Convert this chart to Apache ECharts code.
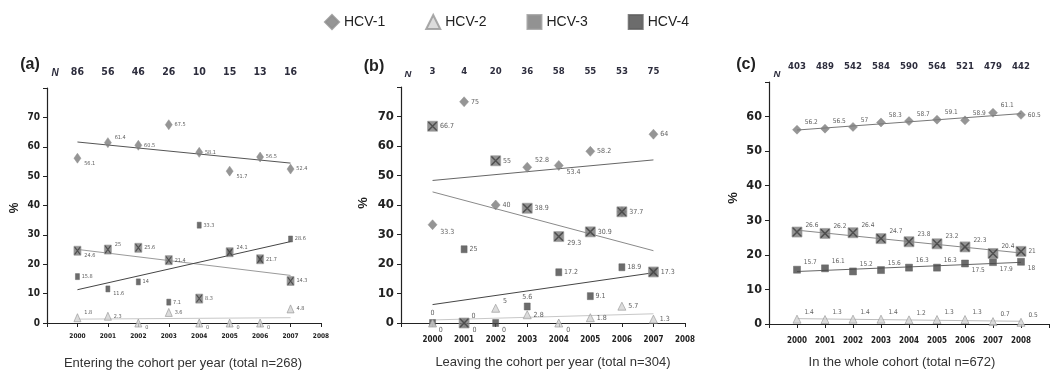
<!DOCTYPE html>
<html>
<head>
<meta charset="utf-8">
<script src="https://cdn.jsdelivr.net/npm/echarts@6/dist/echarts.min.js"></script>
<style>
html,body{margin:0;padding:0;background:#fff}
#chart{width:1052px;height:374px}
</style>
</head>
<body>
<div id="chart"></div>
<script>
// ---- data: genotype share (%) per calendar year ----
const years = [2000, 2001, 2002, 2003, 2004, 2005, 2006, 2007, 2008];

// (a) patients entering the cohort, 2000-2007
const nEnter = [86, 56, 46, 26, 10, 15, 13, 16];
const enterHcv1 = [56.1, 61.4, 60.5, 67.5, 58.1, 51.7, 56.5, 52.4];
const enterHcv2 = [1.8, 2.3, 0, 3.6, 0, 0, 0, 4.8];
const enterHcv3 = [24.6, 25, 25.6, 21.4, 8.3, 24.1, 21.7, 14.3];
const enterHcv4 = [15.8, 11.6, 14, 7.1, 33.3, 24.1, 21.7, 28.6];

// (b) patients leaving the cohort, 2000-2007
const nLeave = [3, 4, 20, 36, 58, 55, 53, 75];
const leaveHcv1 = [33.3, 75, 40, 52.8, 53.4, 58.2, 37.7, 64];
const leaveHcv2 = [0, 0, 5, 2.8, 0, 1.8, 5.7, 1.3];
const leaveHcv3 = [66.7, 0, 55, 38.9, 29.3, 30.9, 37.7, 17.3];
const leaveHcv4 = [0, 25, 0, 5.6, 17.2, 9.1, 18.9, 17.3];

// (c) whole cohort, 2000-2008
const nWhole = [403, 489, 542, 584, 590, 564, 521, 479, 442];
const wholeHcv1 = [56.2, 56.5, 57, 58.3, 58.7, 59.1, 58.9, 61.1, 60.5];
const wholeHcv2 = [1.4, 1.3, 1.4, 1.4, 1.2, 1.3, 1.3, 0.7, 0.5];
const wholeHcv3 = [26.6, 26.2, 26.4, 24.7, 23.8, 23.2, 22.3, 20.4, 21];
const wholeHcv4 = [15.7, 16.1, 15.2, 15.6, 16.3, 16.3, 17.5, 17.9, 18];

// ---- value label placement per point (r = right, ur = up-right, dr = down-right, u = up, '' = none) ----
const lpA = {
  h1: ['dr','ur','r','r','r','dr','r','r'],
  h2: ['ur','r','dr','r','dr','dr','dr','r'],
  h3: ['dr','ur','r','r','r','ur','r','r'],
  h4: ['r','dr','r','r','r','','','r']
};
const lpB = {
  h1: ['dr','r','r','ur','dr','r','','r'],
  h2: ['u','ur','ur','r','dr','r','r','r'],
  h3: ['r','dr','r','r','dr','r','r','r'],
  h4: ['dr','r','dr','u','r','r','r','']
};
const lpC = {
  h1: ['ur','ur','ur','ur','ur','ur','ur','ur','r'],
  h2: ['ur','ur','ur','ur','ur','ur','ur','ur','ur'],
  h3: ['ur','ur','ur','ur','ur','ur','ur','ur','r'],
  h4: ['ur','ur','ur','ur','ur','ur','dr','dr','dr']
};

const LABEL_FONT = "'Liberation Sans Narrow','DejaVu Sans Condensed','Liberation Sans',sans-serif";
const CROSS = 'path://M0,0L1.2,0L10,8.8L10,10L8.8,10L0,1.2Z M8.8,0L10,0L10,1.2L1.2,10L0,10L0,8.8Z';

const panels = [
  {
    grid: {left: 47, top: 88, width: 274, height: 235},
    xMax: 2008, yMax: 80, n: nEnter,
    h1: enterHcv1, h2: enterHcv2, h3: enterHcv3, h4: enterHcv4, lp: lpA,
    sz: {d: [7, 10], t: [7, 8], q: [7, 9], s: [4, 6]},
    font: {val: 5.5, year: 6.5, y: 10, n: 10.5, labOff: 5},
    trend: {h1: '#555', h2: '#c8c8c8', h3: '#9a9a9a', h4: '#454545'},
    yearMargin: 10
  },
  {
    grid: {left: 401, top: 87, width: 284, height: 236},
    xMax: 2008, yMax: 80, n: nLeave,
    h1: leaveHcv1, h2: leaveHcv2, h3: leaveHcv3, h4: leaveHcv4, lp: lpB,
    sz: {d: [9, 10], t: [8, 8], q: [10, 10], s: [6, 7]},
    font: {val: 7, year: 8, y: 13, n: 9.5, labOff: 7},
    trend: {h1: '#666', h2: '#c8c8c8', h3: '#8a8a8a', h4: '#454545'},
    yearMargin: 13
  },
  {
    grid: {left: 769, top: 82, width: 293, height: 242},
    xMax: 2009, yMax: 70, n: nWhole,
    h1: wholeHcv1, h2: wholeHcv2, h3: wholeHcv3, h4: wholeHcv4, lp: lpC,
    sz: {d: [9, 9], t: [8, 8], q: [10, 10], s: [7, 7]},
    font: {val: 6.5, year: 8, y: 12.5, n: 9.5, labOff: 7},
    trend: {h1: '#777', h2: '#bdbdbd', h3: '#888', h4: '#666'},
    yearMargin: 13
  }
];

// least-squares line through the yearly values, drawn over the years covered
function trendLine(vals) {
  const xs = vals.map((_, i) => years[i]);
  const n = vals.length;
  const mx = xs.reduce((a, b) => a + b, 0) / n;
  const my = vals.reduce((a, b) => a + b, 0) / n;
  let sxy = 0, sxx = 0;
  for (let i = 0; i < n; i++) { sxy += (xs[i] - mx) * (vals[i] - my); sxx += (xs[i] - mx) ** 2; }
  const k = sxy / sxx;
  return [[xs[0], my + k * (xs[0] - mx)], [xs[n - 1], my + k * (xs[n - 1] - mx)]];
}

function labelFor(code, p) {
  const base = {fontSize: p.font.val, color: '#333', fontFamily: LABEL_FONT, distance: 2,
                formatter: (q) => String(q.value[1])};
  if (!code) return {show: false};
  if (code === 'u') return Object.assign(base, {show: true, position: 'top'});
  const off = code === 'ur' ? [1, -p.font.labOff] : code === 'dr' ? [1, p.font.labOff] : [0, 0];
  return Object.assign(base, {show: true, position: 'right', offset: off});
}

function pts(vals, codes, p) {
  return vals.map((v, i) => ({value: [years[i], v], label: labelFor(codes[i], p)}));
}

const grids = [], xAxes = [], yAxes = [], series = [];

panels.forEach((p, gi) => {
  grids.push(p.grid);
  // year axis
  xAxes.push({
    gridIndex: gi, type: 'value', min: 1999, max: p.xMax, interval: 1,
    axisLine: {lineStyle: {color: '#222', width: 1.2}},
    axisTick: {length: 4, lineStyle: {color: '#222'}},
    splitLine: {show: false},
    axisLabel: {
      margin: p.yearMargin, fontSize: p.font.year, color: '#222', fontWeight: 'bold',
      fontFamily: LABEL_FONT,
      formatter: (v) => (v >= 2000 && v <= 2008 ? String(v) : '')
    }
  });
  // sample size row above each panel
  xAxes.push({
    gridIndex: gi, type: 'value', position: 'top', min: 1999, max: p.xMax, interval: 1,
    axisLine: {show: false}, axisTick: {show: false}, splitLine: {show: false},
    axisLabel: {
      margin: 10, fontSize: p.font.n, fontWeight: 'bold', color: '#2d2d3d', fontFamily: LABEL_FONT,
      formatter: (v) => { const k = v - 2000; return k >= 0 && k < p.n.length ? String(p.n[k]) : ''; }
    }
  });
  yAxes.push({
    gridIndex: gi, type: 'value', min: 0, max: p.yMax, interval: 10,
    axisLine: {show: true, lineStyle: {color: '#222', width: 1.2}},
    axisTick: {show: true, length: 4, lineStyle: {color: '#222'}},
    splitLine: {show: false},
    axisLabel: {
      margin: 7, fontSize: p.font.y, color: '#222', fontWeight: 'bold', fontFamily: LABEL_FONT,
      formatter: (v) => (v === p.yMax ? '' : String(v))
    }
  });

  const xi = gi * 2;
  const common = {xAxisIndex: xi, yAxisIndex: gi, silent: true, animation: false};

  // regression lines
  [['h1', 'HCV-1'], ['h2', 'HCV-2'], ['h3', 'HCV-3'], ['h4', 'HCV-4']].forEach(([key, name]) => {
    series.push(Object.assign({
      type: 'line', name: name + ' trend', data: trendLine(p[key]), symbol: 'none', z: 1,
      lineStyle: {color: p.trend[key], width: 1}
    }, common));
  });

  // markers (drawing order keeps coincident points readable)
  series.push(Object.assign({
    type: 'scatter', name: 'HCV-4', symbol: 'rect', symbolSize: p.sz.s, z: 3,
    itemStyle: {color: '#474747', borderColor: '#606060', borderWidth: 0.6},
    data: pts(p.h4, p.lp.h4, p)
  }, common));
  series.push(Object.assign({
    type: 'scatter', name: 'HCV-2', symbol: 'triangle', symbolSize: p.sz.t, z: 3,
    itemStyle: {color: '#d3d3d3', borderColor: '#959595', borderWidth: 0.8},
    data: pts(p.h2, p.lp.h2, p)
  }, common));
  series.push(Object.assign({
    type: 'scatter', name: 'HCV-1', symbol: 'diamond', symbolSize: p.sz.d, z: 3,
    itemStyle: {color: '#7a7a7a', borderColor: '#8e8e8e', borderWidth: 0.6},
    data: pts(p.h1, p.lp.h1, p)
  }, common));
  series.push(Object.assign({
    type: 'scatter', name: 'HCV-3', symbol: 'rect', symbolSize: p.sz.q, z: 4,
    itemStyle: {color: '#777777', borderColor: '#9a9a9a', borderWidth: 0.8},
    data: pts(p.h3, p.lp.h3, p)
  }, common));
  series.push(Object.assign({
    type: 'scatter', name: 'HCV-3', symbol: CROSS, symbolSize: p.sz.q.map(s => s - 1), z: 5,
    itemStyle: {color: '#3e3e3e'},
    data: p.h3.map((v, i) => [years[i], v])
  }, common));
});

const txt = (x, y, text, size, extra) => ({
  type: 'text', x, y, silent: true,
  style: Object.assign({text, fontSize: size, fill: '#222', fontFamily: 'Liberation Sans, Arial, sans-serif',
                        align: 'center', verticalAlign: 'middle'}, extra || {})
});

const graphics = [
  txt(30, 65, '(a)', 16, {fontWeight: 'bold'}),
  txt(374, 67, '(b)', 16, {fontWeight: 'bold'}),
  txt(746, 65, '(c)', 16, {fontWeight: 'bold'}),
  txt(55, 73, 'N', 10, {fontWeight: 'bold', fontStyle: 'italic', fill: '#2d2d3d'}),
  txt(408, 74, 'N', 9.5, {fontWeight: 'bold', fontStyle: 'italic', fill: '#2d2d3d'}),
  txt(777, 74, 'N', 9.5, {fontWeight: 'bold', fontStyle: 'italic', fill: '#2d2d3d'}),
  Object.assign(txt(15, 208, '%', 12, {fontWeight: 'bold'}), {rotation: Math.PI / 2}),
  Object.assign(txt(363, 203, '%', 13, {fontWeight: 'bold'}), {rotation: Math.PI / 2}),
  Object.assign(txt(733, 198, '%', 13, {fontWeight: 'bold'}), {rotation: Math.PI / 2}),
  txt(183, 363, 'Entering the cohort per year (total n=268)', 13, {fill: '#333'}),
  txt(553, 362, 'Leaving the cohort per year (total n=304)', 13, {fill: '#333'}),
  txt(902, 362, 'In the whole cohort (total n=672)', 13, {fill: '#333'})
];

const chart = echarts.init(document.getElementById('chart'), null, {renderer: 'canvas'});
chart.setOption({
  animation: false,
  backgroundColor: '#fff',
  legend: {
    data: [
      {name: 'HCV-1', icon: 'diamond'},
      {name: 'HCV-2', icon: 'triangle'},
      {name: 'HCV-3', icon: 'rect'},
      {name: 'HCV-4', icon: 'rect'}
    ],
    top: 9, left: 319, itemWidth: 14, itemHeight: 14, itemGap: 40, selectedMode: false,
    textStyle: {fontSize: 14, color: '#222', fontFamily: 'Liberation Sans, Arial, sans-serif'}
  },
  grid: grids,
  xAxis: xAxes,
  yAxis: yAxes,
  series,
  graphic: graphics
});
</script>
</body>
</html>
